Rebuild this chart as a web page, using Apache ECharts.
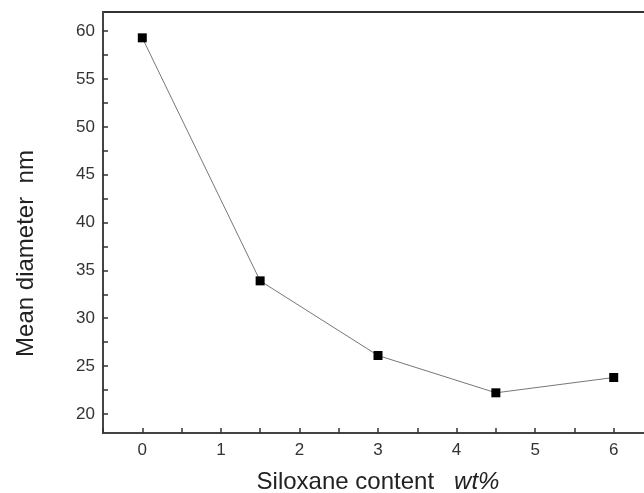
<!DOCTYPE html>
<html>
<head>
<meta charset="utf-8">
<script src="https://cdn.jsdelivr.net/npm/echarts@6/dist/echarts.min.js"></script>
<style>html,body{margin:0;padding:0;background:#fff}#c{width:644px;height:493px}</style>
</head>
<body>
<div id="c"></div>
<script>
var siloxane = [0, 1.5, 3, 4.5, 6];
var diameter = [59.3, 33.9, 26.1, 22.2, 23.8];
var xTickLabels = [0, 1, 2, 3, 4, 5, 6];
var xTicks = [-0.5, 0, 0.5, 1, 1.5, 2, 2.5, 3, 3.5, 4, 4.5, 5, 5.5, 6, 6.5];
var yTickLabels = [20, 25, 30, 35, 40, 45, 50, 55, 60];
var yTicks = [20, 22.5, 25, 27.5, 30, 32.5, 35, 37.5, 40, 42.5, 45, 47.5, 50, 52.5, 55, 57.5, 60];

var chart = echarts.init(document.getElementById('c'), null, {renderer: 'canvas'});
var font = 'Liberation Sans, Arial, sans-serif';
chart.setOption({
  animation: false,
  backgroundColor: '#fff',
  grid: {left: 103, top: 12, right: -9, bottom: 60, outerBoundsMode: 'none', containLabel: false, show: true, borderColor: '#333', borderWidth: 2, backgroundColor: 'transparent'},
  xAxis: {
    type: 'value', min: -0.5, max: 6.5,
    name: 'Siloxane content   {i|wt%}', nameLocation: 'middle', nameGap: 37,
    nameTextStyle: {fontFamily: font, fontSize: 24, color: '#222', rich: {i: {fontFamily: font, fontSize: 24, fontStyle: 'italic', color: '#222'}}},
    axisLine: {onZero: false, lineStyle: {color: '#444', width: 2}},
    axisTick: {inside: true, length: 5, customValues: xTicks, lineStyle: {color: '#333', width: 1.5}},
    axisLabel: {fontFamily: font, fontSize: 17, color: '#333', margin: 9, customValues: xTickLabels},
    splitLine: {show: false}
  },
  yAxis: {
    type: 'value', min: 18, max: 62,
    name: 'Mean diameter  nm', nameLocation: 'middle', nameGap: 65,
    nameTextStyle: {fontFamily: font, fontSize: 24, color: '#222', padding: [0, 62, 0, 0]},
    axisLine: {onZero: false, lineStyle: {color: '#444', width: 2}},
    axisTick: {inside: true, length: 5, customValues: yTicks, lineStyle: {color: '#333', width: 1.5}},
    axisLabel: {fontFamily: font, fontSize: 17, color: '#333', margin: 8, customValues: yTickLabels},
    splitLine: {show: false}
  },
  series: [{
    type: 'line',
    data: siloxane.map(function (x, i) { return [x, diameter[i]]; }),
    symbol: 'rect', symbolSize: 9,
    itemStyle: {color: '#000'},
    lineStyle: {color: '#777', width: 1}
  }]
});
</script>
</body>
</html>
